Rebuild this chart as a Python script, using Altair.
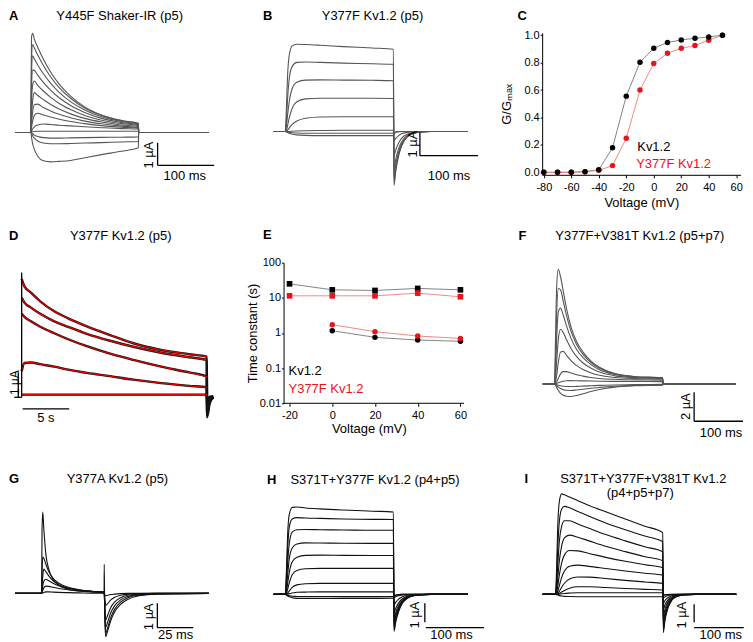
import altair as alt
import pandas as pd

FONT = "Liberation Sans"
GREY = "#555555"
BLACK = "#111111"
RED = "#e8141c"
FIT_RED = "#e00000"

# ---------------- Panel A : Y445F Shaker-IR (ms, uA) ----------------
A_t = [-28, 0, 1, 3, 6, 12, 22, 35, 50, 70, 95, 125, 160, 190, 190.5, 314]
A_traces = [
    [0, 0, 4.20, 4.38, 4.12, 3.76, 3.23, 2.66, 2.13, 1.60, 1.13, 0.77, 0.53, 0.40, 0, 0],
    [0, 0, 3.20, 3.88, 3.73, 3.42, 2.96, 2.45, 1.98, 1.51, 1.08, 0.75, 0.51, 0.39, 0, 0],
    [0, 0, 2.60, 3.38, 3.24, 2.98, 2.59, 2.17, 1.77, 1.36, 0.99, 0.69, 0.48, 0.37, 0, 0],
    [0, 0, 1.90, 2.75, 2.74, 2.53, 2.21, 1.86, 1.53, 1.19, 0.88, 0.62, 0.44, 0.34, 0, 0],
    [0, 0, 1.20, 2.10, 2.27, 2.08, 1.83, 1.55, 1.28, 1.01, 0.75, 0.54, 0.39, 0.30, 0, 0],
    [0, 0, 0.70, 1.40, 1.76, 1.63, 1.45, 1.23, 1.03, 0.82, 0.62, 0.46, 0.33, 0.26, 0, 0],
    [0, 0, 0.40, 0.90, 1.22, 1.25, 1.10, 0.95, 0.80, 0.65, 0.50, 0.38, 0.28, 0.22, 0, 0],
    [0, 0, 0.20, 0.50, 0.75, 0.85, 0.77, 0.68, 0.585, 0.48, 0.39, 0.30, 0.23, 0.19, 0, 0],
    [0, 0, 0.05, 0.15, 0.25, 0.33, 0.37, 0.35, 0.32, 0.29, 0.25, 0.21, 0.17, 0.15, 0, 0],
    [0, 0, 0.02, 0.03, 0.04, 0.05, 0.05, 0.05, 0.05, 0.05, 0.05, 0.05, 0.05, 0.05, 0, 0],
    [0, 0, -0.20, -0.50, -0.75, -1.05, -1.25, -1.30, -1.28, -1.24, -1.12, -0.98, -0.83, -0.68, 0, 0],
    [0, 0, -0.05, -0.15, -0.25, -0.38, -0.47, -0.50, -0.50, -0.49, -0.47, -0.45, -0.42, -0.40, 0, 0],
    [0, 0, -0.02, -0.06, -0.12, -0.18, -0.23, -0.25, -0.25, -0.24, -0.23, -0.22, -0.21, -0.20, 0, 0],
]

# ---------------- Panel B : Y377F Kv1.2 (ms, uA) ----------------
B_t = [-20, 0, 2, 4, 7, 12, 20, 35, 60, 100, 150, 186, 187, 190, 195, 200, 210, 225, 250, 314]
B_traces = [
    [0, 0, 1.0, 2.4, 3.3, 3.68, 3.75, 3.74, 3.71, 3.65, 3.59, 3.54, -2.33, -1.73, -1.05, -0.64, -0.23, -0.05, 0, 0],
    [0, 0, 0.5, 1.4, 2.3, 2.8, 2.97, 2.99, 2.97, 2.94, 2.91, 2.89, -2.15, -1.60, -0.98, -0.60, -0.22, -0.05, 0, 0],
    [0, 0, 0.2, 0.7, 1.3, 1.85, 2.12, 2.21, 2.22, 2.21, 2.20, 2.18, -1.95, -1.45, -0.88, -0.54, -0.20, -0.04, 0, 0],
    [0, 0, 0.05, 0.25, 0.6, 1.0, 1.28, 1.40, 1.43, 1.43, 1.43, 1.42, -1.60, -1.20, -0.74, -0.45, -0.17, -0.04, 0, 0],
    [0, 0, 0, 0.05, 0.15, 0.30, 0.45, 0.57, 0.62, 0.63, 0.63, 0.63, -1.05, -0.80, -0.50, -0.30, -0.12, -0.03, 0, 0],
    [0, 0, 0, 0, 0, 0.01, 0.02, 0.03, 0.04, 0.05, 0.05, 0.05, -0.40, -0.30, -0.18, -0.10, -0.04, 0, 0, 0],
    [0, 0, -0.02, -0.05, -0.08, -0.12, -0.15, -0.17, -0.18, -0.18, -0.18, -0.18, -0.10, -0.05, -0.02, 0, 0, 0, 0, 0],
    [0, 0, -0.01, -0.02, -0.04, -0.06, -0.07, -0.08, -0.08, -0.08, -0.08, -0.08, -0.04, -0.02, 0, 0, 0, 0, 0, 0],
]

# ---------------- Panel C : G/Gmax vs voltage ----------------
C_volt = [-80, -70, -60, -50, -40, -30, -20, -10, 0, 10, 20, 30, 40, 50]
C_kv12 = [0, 0, 0, 0.005, 0.019, 0.18, 0.556, 0.803, 0.905, 0.947, 0.966, 0.978, 0.988, 1.0]
C_y377f = [0, 0, 0, 0.005, 0.015, 0.049, 0.248, 0.600, 0.794, 0.869, 0.905, 0.925, 0.964, 1.0]
C_ticks_x = [-80, -60, -40, -20, 0, 20, 40, 60]
C_ticks_y = [0.0, 0.2, 0.4, 0.6, 0.8, 1.0]

# ---------------- Panel D : long pulses (s, uA) ----------------
D_t = [0, 0.3, 1, 2, 3.5, 5, 7, 9.5, 12, 15, 18, 19.9, 19.92, 20.2, 20.6]
D_traces = [
    [4.70, 4.40, 4.15, 3.80, 3.40, 3.12, 2.80, 2.45, 2.12, 1.85, 1.68, 1.58, -0.85, -0.30, -0.05],
    [3.95, 3.75, 3.55, 3.30, 3.00, 2.78, 2.50, 2.22, 1.98, 1.74, 1.56, 1.45, -0.75, -0.25, -0.04],
    [3.30, 3.18, 3.00, 2.78, 2.52, 2.28, 2.00, 1.70, 1.45, 1.18, 0.95, 0.78, -0.60, -0.20, -0.03],
    [1.00, 1.33, 1.35, 1.28, 1.18, 1.06, 0.93, 0.80, 0.66, 0.52, 0.41, 0.35, -0.40, -0.12, -0.02],
    [0.06, 0.06, 0.06, 0.06, 0.06, 0.06, 0.06, 0.06, 0.06, 0.06, 0.06, 0.06, -0.10, -0.03, 0],
]
D_fit_points = 12  # fits drawn over the pulse only

# ---------------- Panel E : time constants (log) ----------------
E_volt_slow = [-20, 0, 20, 40, 60]
E_kv12_slow = [25.0, 16.9, 16.2, 18.5, 16.9]
E_y377f_slow = [11.4, 11.4, 11.4, 13.6, 10.7]
E_volt_fast = [0, 20, 40, 60]
E_kv12_fast = [1.16, 0.75, 0.63, 0.58]
E_y377f_fast = [1.72, 1.09, 0.82, 0.70]
E_ticks_x = [-20, 0, 20, 40, 60]
E_ticks_y = [0.01, 0.1, 1, 10, 100]
E_axis_x_span = [-22.8, 61.7]

# ---------------- Panel F : Y377F+V381T (ms, uA) ----------------
F_t = [-21.3, 0, 2, 4, 7, 11, 16, 22, 30, 40, 52, 66, 82, 110, 145, 197, 198, 330.5]
F_traces = [
    [0, 0, 3.5, 6.8, 7.93, 7.4, 6.4, 5.2, 3.95, 2.95, 2.2, 1.6, 1.15, 0.72, 0.52, 0.42, 0, 0],
    [0, 0, 2.2, 5.0, 6.6, 6.5, 5.7, 4.7, 3.65, 2.75, 2.05, 1.5, 1.08, 0.70, 0.50, 0.41, 0, 0],
    [0, 0, 1.2, 3.2, 5.0, 5.25, 4.75, 4.0, 3.15, 2.4, 1.82, 1.35, 0.98, 0.65, 0.48, 0.40, 0, 0],
    [0, 0, 0.5, 1.6, 3.1, 3.78, 3.55, 3.05, 2.45, 1.9, 1.45, 1.1, 0.82, 0.56, 0.44, 0.38, 0, 0],
    [0, 0, 0.2, 0.6, 1.5, 2.2, 2.25, 1.98, 1.62, 1.28, 1.0, 0.78, 0.60, 0.45, 0.37, 0.33, 0, 0],
    [0, 0, 0.05, 0.15, 0.4, 0.7, 0.85, 0.85, 0.76, 0.64, 0.54, 0.45, 0.38, 0.32, 0.28, 0.26, 0, 0],
    [0, 0, 0.01, 0.03, 0.08, 0.14, 0.19, 0.22, 0.23, 0.22, 0.21, 0.20, 0.19, 0.18, 0.17, 0.16, 0, 0],
    [0, 0, -0.10, -0.25, -0.45, -0.65, -0.78, -0.85, -0.87, -0.80, -0.68, -0.52, -0.38, -0.22, -0.13, -0.08, 0, 0],
    [0, 0, -0.05, -0.12, -0.22, -0.32, -0.40, -0.44, -0.45, -0.42, -0.37, -0.30, -0.24, -0.16, -0.10, -0.06, 0, 0],
    [0, 0, -0.02, -0.05, -0.09, -0.13, -0.16, -0.18, -0.18, -0.17, -0.15, -0.13, -0.10, -0.07, -0.05, -0.03, 0, 0],
]

# ---------------- Panel G : Y377A (ms, uA) ----------------
G_t = [-18.5, 0, 0.3, 0.8, 1.5, 3, 5, 8, 12, 18, 26, 35, 43.5,
       43.6, 44.0, 44.6, 46, 48, 51, 55, 60, 68, 80, 116.4]
G_traces = [
    [0, 0, 2.6, 3.36, 2.7, 1.6, 1.0, 0.58, 0.33, 0.18, 0.10, 0.06, 0.04,
     1.2, -1.0, -1.79, -1.55, -1.15, -0.75, -0.45, -0.25, -0.10, -0.03, 0],
    [0, 0, 0.9, 1.5, 1.45, 1.2, 0.9, 0.62, 0.42, 0.26, 0.15, 0.09, 0.06,
     0.04, -0.8, -1.65, -1.42, -1.02, -0.64, -0.36, -0.18, -0.07, -0.02, 0],
    [0, 0, 0.3, 0.7, 1.0, 0.9, 0.72, 0.52, 0.36, 0.23, 0.14, 0.09, 0.06,
     0.03, -0.6, -1.4, -1.18, -0.82, -0.50, -0.27, -0.13, -0.05, -0.01, 0],
    [0, 0, 0.1, 0.3, 0.5, 0.58, 0.52, 0.42, 0.31, 0.21, 0.13, 0.08, 0.05,
     0.02, -0.45, -1.1, -0.9, -0.6, -0.35, -0.18, -0.08, -0.03, 0, 0],
    [0, 0, 0.05, 0.12, 0.22, 0.30, 0.29, 0.25, 0.20, 0.15, 0.10, 0.07, 0.05,
     0.01, -0.2, -0.5, -0.42, -0.28, -0.16, -0.08, -0.03, -0.01, 0, 0],
    [0, 0, 0.01, 0.02, 0.04, 0.06, 0.06, 0.05, 0.04, 0.03, 0.02, 0.01, 0.01,
     0, -0.05, -0.1, -0.08, -0.05, -0.03, -0.01, 0, 0, 0, 0],
]

# ---------------- Panel H : S371T+Y377F (ms, uA) ----------------
H_t = [-20, 0, 2, 4, 7, 12, 20, 35, 60, 100, 150, 186, 187, 190, 195, 200, 210, 225, 250, 314]
H_traces = [
    [0, 0, 1.23, 3.07, 4.23, 4.59, 4.61, 4.56, 4.51, 4.45, 4.39, 4.35, -1.96, -1.47, -0.91, -0.55, -0.21, -0.05, 0, 0],
    [0, 0, 0.86, 2.33, 3.56, 3.98, 4.05, 4.03, 4.01, 3.98, 3.96, 3.95, -1.84, -1.37, -0.85, -0.51, -0.20, -0.05, 0, 0],
    [0, 0, 0.55, 1.59, 2.70, 3.29, 3.41, 3.42, 3.41, 3.40, 3.38, 3.38, -1.69, -1.26, -0.77, -0.47, -0.17, -0.04, 0, 0],
    [0, 0, 0.31, 0.98, 1.90, 2.45, 2.66, 2.72, 2.71, 2.70, 2.69, 2.69, -1.50, -1.12, -0.69, -0.42, -0.15, -0.04, 0, 0],
    [0, 0, 0.15, 0.55, 1.16, 1.72, 1.96, 2.06, 2.07, 2.06, 2.05, 2.05, -1.29, -0.96, -0.59, -0.36, -0.12, -0.02, 0, 0],
    [0, 0, 0.06, 0.25, 0.61, 1.04, 1.26, 1.35, 1.37, 1.37, 1.37, 1.37, -0.98, -0.74, -0.45, -0.27, -0.10, -0.02, 0, 0],
    [0, 0, 0.02, 0.07, 0.18, 0.37, 0.50, 0.56, 0.58, 0.58, 0.58, 0.58, -0.55, -0.42, -0.25, -0.15, -0.05, -0.01, 0, 0],
    [0, 0, 0, 0.01, 0.04, 0.07, 0.11, 0.12, 0.13, 0.13, 0.13, 0.13, -0.18, -0.12, -0.07, -0.04, -0.01, 0, 0, 0],
    [0, 0, -0.02, -0.05, -0.07, -0.10, -0.11, -0.12, -0.12, -0.12, -0.12, -0.12, -0.06, -0.04, -0.01, 0, 0, 0, 0, 0],
    [0, 0, -0.04, -0.09, -0.13, -0.18, -0.21, -0.22, -0.22, -0.21, -0.21, -0.20, -0.10, -0.05, -0.02, 0, 0, 0, 0, 0],
]

# ---------------- Panel I : S371T+Y377F+V381T (ms, uA) ----------------
I_t = [-23, 0, 2, 4, 7, 11, 16, 25, 40, 60, 90, 125, 160, 192,
       193, 196, 200, 206, 215, 230, 250, 323.6]
I_traces = [
    [0, 0, 1.5, 3.8, 5.2, 5.6, 5.55, 5.42, 5.22, 4.95, 4.6, 4.2, 3.8, 3.44, -2.13, -1.45, -0.9, -0.45, -0.15, -0.03, 0, 0],
    [0, 0, 0.9, 2.6, 4.1, 4.75, 4.9, 4.82, 4.62, 4.35, 3.98, 3.6, 3.25, 2.93, -1.95, -1.33, -0.82, -0.41, -0.14, -0.03, 0, 0],
    [0, 0, 0.5, 1.6, 3.0, 3.8, 4.1, 4.1, 3.92, 3.68, 3.33, 2.98, 2.65, 2.37, -1.75, -1.2, -0.74, -0.37, -0.12, -0.02, 0, 0],
    [0, 0, 0.25, 0.9, 1.9, 2.7, 3.15, 3.3, 3.18, 2.98, 2.68, 2.38, 2.1, 1.87, -1.5, -1.02, -0.63, -0.32, -0.1, -0.02, 0, 0],
    [0, 0, 0.1, 0.45, 1.1, 1.75, 2.2, 2.44, 2.42, 2.28, 2.06, 1.84, 1.65, 1.48, -1.2, -0.82, -0.5, -0.25, -0.08, -0.01, 0, 0],
    [0, 0, 0.04, 0.18, 0.5, 0.95, 1.3, 1.57, 1.63, 1.56, 1.44, 1.3, 1.18, 1.07, -0.85, -0.58, -0.36, -0.18, -0.06, -0.01, 0, 0],
    [0, 0, 0.01, 0.06, 0.18, 0.4, 0.62, 0.86, 0.97, 0.96, 0.88, 0.78, 0.69, 0.61, -0.5, -0.34, -0.21, -0.1, -0.03, 0, 0, 0],
    [0, 0, 0, 0.02, 0.06, 0.13, 0.22, 0.34, 0.42, 0.42, 0.38, 0.33, 0.28, 0.24, -0.2, -0.14, -0.08, -0.04, -0.01, 0, 0, 0],
    [0, 0, 0, 0, 0.01, 0.03, 0.05, 0.07, 0.09, 0.09, 0.09, 0.09, 0.09, 0.09, -0.05, -0.03, -0.02, -0.01, 0, 0, 0, 0],
    [0, 0, -0.02, -0.04, -0.07, -0.09, -0.11, -0.12, -0.13, -0.13, -0.13, -0.13, -0.13, -0.13, -0.06, -0.03, -0.01, 0, 0, 0, 0, 0],
]


# ---------------- helpers ----------------
def long_df(t, traces):
    rows = []
    for i, tr in enumerate(traces):
        assert len(tr) == len(t), (i, len(tr), len(t))
        for tt, vv in zip(t, tr):
            rows.append({"t": tt, "v": vv, "trace": "s%d" % i})
    return pd.DataFrame(rows)


def label(text, x, y, align="left", bold=False, size=13, color="black"):
    return alt.Chart(pd.DataFrame({"s": [text]})).mark_text(
        align=align, baseline="middle", fontSize=size, clip=False,
        fontWeight="bold" if bold else "normal", color=color,
    ).encode(x=alt.value(x), y=alt.value(y), text="s:N")


def heading(letter, lx, ly, titles=()):
    out = [label(letter, lx, ly, bold=True)]
    for txt, x, y in titles:
        out.append(label(txt, x, y, align="center"))
    return out


def trace_panel(line_specs, xdom, ydom, w, h, bars, texts, rtexts, head, rsize=13):
    xs = alt.Scale(domain=xdom, nice=False, zero=False)
    ys = alt.Scale(domain=ydom, nice=False, zero=False)
    layers = []
    for df, color, sw in line_specs:
        layers.append(
            alt.Chart(df).mark_line(color=color, strokeWidth=sw, interpolate="monotone", clip=False).encode(
                x=alt.X("t:Q", scale=xs, axis=None),
                y=alt.Y("v:Q", scale=ys, axis=None),
                detail="trace:N",
            )
        )
    bdf = pd.DataFrame(bars, columns=["t", "t2", "v", "v2"])
    layers.append(
        alt.Chart(bdf).mark_rule(color="black", strokeWidth=1.3, clip=False).encode(
            x=alt.X("t:Q", scale=xs, axis=None), x2="t2:Q",
            y=alt.Y("v:Q", scale=ys, axis=None), y2="v2:Q",
        )
    )
    tdf = pd.DataFrame(texts, columns=["s", "t", "v"])
    layers.append(
        alt.Chart(tdf).mark_text(fontSize=13, color="black", baseline="middle", align="center",
                                 clip=False).encode(
            x=alt.X("t:Q", scale=xs, axis=None), y=alt.Y("v:Q", scale=ys, axis=None), text="s:N"
        )
    )
    rdf = pd.DataFrame(rtexts, columns=["s", "t", "v"])
    layers.append(
        alt.Chart(rdf).mark_text(fontSize=rsize, color="black", baseline="middle", align="center",
                                 angle=270, clip=False).encode(
            x=alt.X("t:Q", scale=xs, axis=None), y=alt.Y("v:Q", scale=ys, axis=None), text="s:N"
        )
    )
    layers += head
    return alt.layer(*layers).properties(width=w, height=h)


def make_axis(values, title, label_expr, lp, tp, tick=3, domain=True, offset=0):
    return alt.Axis(
        values=values, title=title, labelExpr=label_expr, grid=False, domain=domain, offset=offset,
        domainColor="black", domainWidth=1, tickColor="black", tickSize=tick, tickWidth=1,
        labelFontSize=11, labelColor="black", labelPadding=lp, labelFlush=False,
        labelOverlap=False, titleFontSize=13, titleFontWeight="normal", titleColor="black",
        titlePadding=tp,
    )


# ---------------- panels ----------------
pA = trace_panel(
    [(long_df(A_t, A_traces), GREY, 1.1)],
    [-28.22, 342.15], [-1.872, 4.401], 210, 142.4,
    [(224, 224, -0.454, -1.454), (224, 324, -1.454, -1.454)],
    [("100 ms", 272, -1.93)], [("1 \u00b5A", 208, -1.0)],
    heading("A", -6, -17.3, [("Y445F Shaker-IR (p5)", 105, -17.3)]),
)

pB = trace_panel(
    [(long_df(B_t, B_traces), GREY, 1.1)],
    [-20.07, 357.3], [-1.867, 4.245], 220, 142.4,
    [(231.6, 231.6, -0.043, -1.043), (231.6, 331.6, -1.043, -1.043)],
    [("100 ms", 281.8, -1.93)], [("1 \u00b5A", 219.6, -0.54)],
    heading("B", -10.6, -17.3, [("Y377F Kv1.2 (p5)", 99.2, -17.3)]),
)

# C
xsC = alt.Scale(domain=[-81.2, 63.2], nice=False, zero=False)
ysC = alt.Scale(domain=[-0.018, 1.018], nice=False, zero=False)
axCx = make_axis(C_ticks_x, "Voltage (mV)", "'' + datum.value", 4, 4)
axCy = make_axis(C_ticks_y, "G/G\u2098\u2090\u2093", "format(datum.value, '.1f')", 1, 10, tick=2)
dfC_k = pd.DataFrame({"x": C_volt, "y": C_kv12})
dfC_m = pd.DataFrame({"x": C_volt, "y": C_y377f})
encC = dict(x=alt.X("x:Q", scale=xsC, axis=axCx), y=alt.Y("y:Q", scale=ysC, axis=axCy))
legC = pd.DataFrame({"x": [-12.0, -12.8], "y": [0.1875, 0.064], "s": ["Kv1.2", "Y377F Kv1.2"],
                     "c": ["black", RED]})
pC = alt.layer(
    alt.Chart(dfC_k).mark_line(color="#777777", strokeWidth=0.9).encode(**encC),
    alt.Chart(dfC_m).mark_line(color="#f27a7a", strokeWidth=0.9).encode(**encC),
    alt.Chart(dfC_m).mark_point(shape="circle", filled=True, size=30, opacity=1, color=RED).encode(**encC),
    alt.Chart(dfC_k).mark_point(shape="circle", filled=True, size=30, opacity=1, color="black").encode(**encC),
    alt.Chart(legC).mark_text(fontSize=13, align="left", baseline="middle").encode(
        text="s:N", color=alt.Color("c:N", scale=None), **encC),
    *heading("C", -24.6, -17.3),
).properties(width=199, height=142.4)

# D
D_fit = [tr[:D_fit_points] for tr in D_traces]
pD = trace_panel(
    [(long_df(D_t, D_traces), BLACK, 2.4), (long_df(D_t[:D_fit_points], D_fit), FIT_RED, 1.3)],
    [-0.718, 21.79], [-0.288, 5.352], 210, 141,
    [(0, 0, -0.05, 4.96), (-0.364, -0.364, 0.952, -0.048), (-0.79, 0, -0.048, -0.048),
     (0.107, 5.107, -0.512, -0.512)],
    [("5 s", 2.6, -0.86)], [("1 \u00b5A", -0.72, 0.54)],
    heading("D", -6, -26.7, [("Y377F Kv1.2 (p5)", 106, -26.7)]),
    rsize=12,
)

# E (plot area starts 10 px left of the drawn y axis, which is offset inward)
xsE = alt.Scale(domain=[-27.47, 61.7], nice=False, zero=False)
ysE = alt.Scale(type="log", domain=[0.01, 100], nice=False)
axEx = make_axis(E_ticks_x, "Voltage (mV)", "'' + datum.value", 3, 2, domain=False)
axEy = make_axis(E_ticks_y, "Time constant (s)", "format(datum.value, '~g')", 1, 0, tick=2, offset=-10)
encE = dict(x=alt.X("x:Q", scale=xsE, axis=axEx), y=alt.Y("y:Q", scale=ysE, axis=axEy))
dE_ks = pd.DataFrame({"x": E_volt_slow, "y": E_kv12_slow})
dE_ms = pd.DataFrame({"x": E_volt_slow, "y": E_y377f_slow})
dE_kf = pd.DataFrame({"x": E_volt_fast, "y": E_kv12_fast})
dE_mf = pd.DataFrame({"x": E_volt_fast, "y": E_y377f_fast})
dE_axis = pd.DataFrame({"x": [E_axis_x_span[0]], "x2": [E_axis_x_span[1]], "y": [E_ticks_y[0]]})
legE = pd.DataFrame({"x": [-20.47, -20.47], "y": [0.0847, 0.0261], "s": ["Kv1.2", "Y377F Kv1.2"],
                     "c": ["black", RED]})
pE = alt.layer(
    alt.Chart(dE_axis).mark_rule(color="black", strokeWidth=1).encode(x2="x2:Q", **encE),
    alt.Chart(dE_ks).mark_line(color="#777777", strokeWidth=0.9).encode(**encE),
    alt.Chart(dE_kf).mark_line(color="#777777", strokeWidth=0.9).encode(**encE),
    alt.Chart(dE_ms).mark_line(color="#f27a7a", strokeWidth=0.9).encode(**encE),
    alt.Chart(dE_mf).mark_line(color="#f27a7a", strokeWidth=0.9).encode(**encE),
    alt.Chart(dE_ks).mark_point(shape="square", filled=True, size=32, opacity=1, color="black").encode(**encE),
    alt.Chart(dE_ms).mark_point(shape="square", filled=True, size=32, opacity=1, color=RED).encode(**encE),
    alt.Chart(dE_kf).mark_point(shape="circle", filled=True, size=30, opacity=1, color="black").encode(**encE),
    alt.Chart(dE_mf).mark_point(shape="circle", filled=True, size=30, opacity=1, color=RED).encode(**encE),
    alt.Chart(legE).mark_text(fontSize=13, align="left", baseline="middle").encode(
        text="s:N", color=alt.Color("c:N", scale=None), **encE),
    *heading("E", -10.6, -27.7),
).properties(width=191, height=141)

pF = trace_panel(
    [(long_df(F_t, F_traces), GREY, 1.1)],
    [-22.55, 339.27], [-1.338, 8.386], 199, 141,
    [(254.5, 254.5, -0.58, -2.58), (254.5, 343.6, -2.58, -2.58)],
    [("100 ms", 303.6, -3.36)], [("2 \u00b5A", 240, -1.57)],
    heading("F", -23.6, -26.7, [("Y377F+V381T Kv1.2 (p5+p7)", 97.9, -26.7)]),
)

pG = trace_panel(
    [(long_df(G_t, G_traces), BLACK, 1.1)],
    [-18.54, 127.29], [-1.601, 4.243], 210, 142,
    [(80.6, 80.6, -0.41, -1.416), (80.6, 105.6, -1.416, -1.416)],
    [("25 ms", 93.3, -1.72)], [("1 \u00b5A", 74.7, -0.963)],
    heading("G", -6, -11.2, [("Y377A Kv1.2 (p5)", 102.7, -11.2)]),
)

pH = trace_panel(
    [(long_df(H_t, H_traces), BLACK, 1.1)],
    [-20.07, 357.3], [-1.995, 5.479], 220, 142,
    [(240.1, 240.1, -0.474, -1.474), (241.8, 341.8, -1.758, -1.758)],
    [("100 ms", 285.9, -2.14)], [("1 \u00b5A", 223, -1.09)],
    heading("H", -6.6, -10.9, [("S371T+Y377F Kv1.2 (p4+p5)", 101.7, -10.9)]),
)

pI = trace_panel(
    [(long_df(I_t, I_traces), BLACK, 1.1)],
    [-23.93, 331.43], [-2.106, 5.783], 199, 142,
    [(248.2, 248.2, -0.556, -1.556), (248.2, 337.0, -1.856, -1.856)],
    [("100 ms", 295.9, -2.26)], [("1 \u00b5A", 227.3, -1.15)],
    heading("I", -17.6, -11.6, [("S371T+Y377F+V381T Kv1.2", 101.4, -11.6), ("(p4+p5+p7)", 98.4, 2.2)]),
)

chart = alt.concat(
    pA, pB, pC, pD, pE, pF, pG, pH, pI,
    columns=3,
    spacing={"row": 87.5, "column": 49.3},
    bounds="flush",
    align="each",
).properties(padding=0).configure(font=FONT).configure_view(strokeWidth=0)

chart.save("out.html", embed_options={"renderer": "svg", "actions": False})
